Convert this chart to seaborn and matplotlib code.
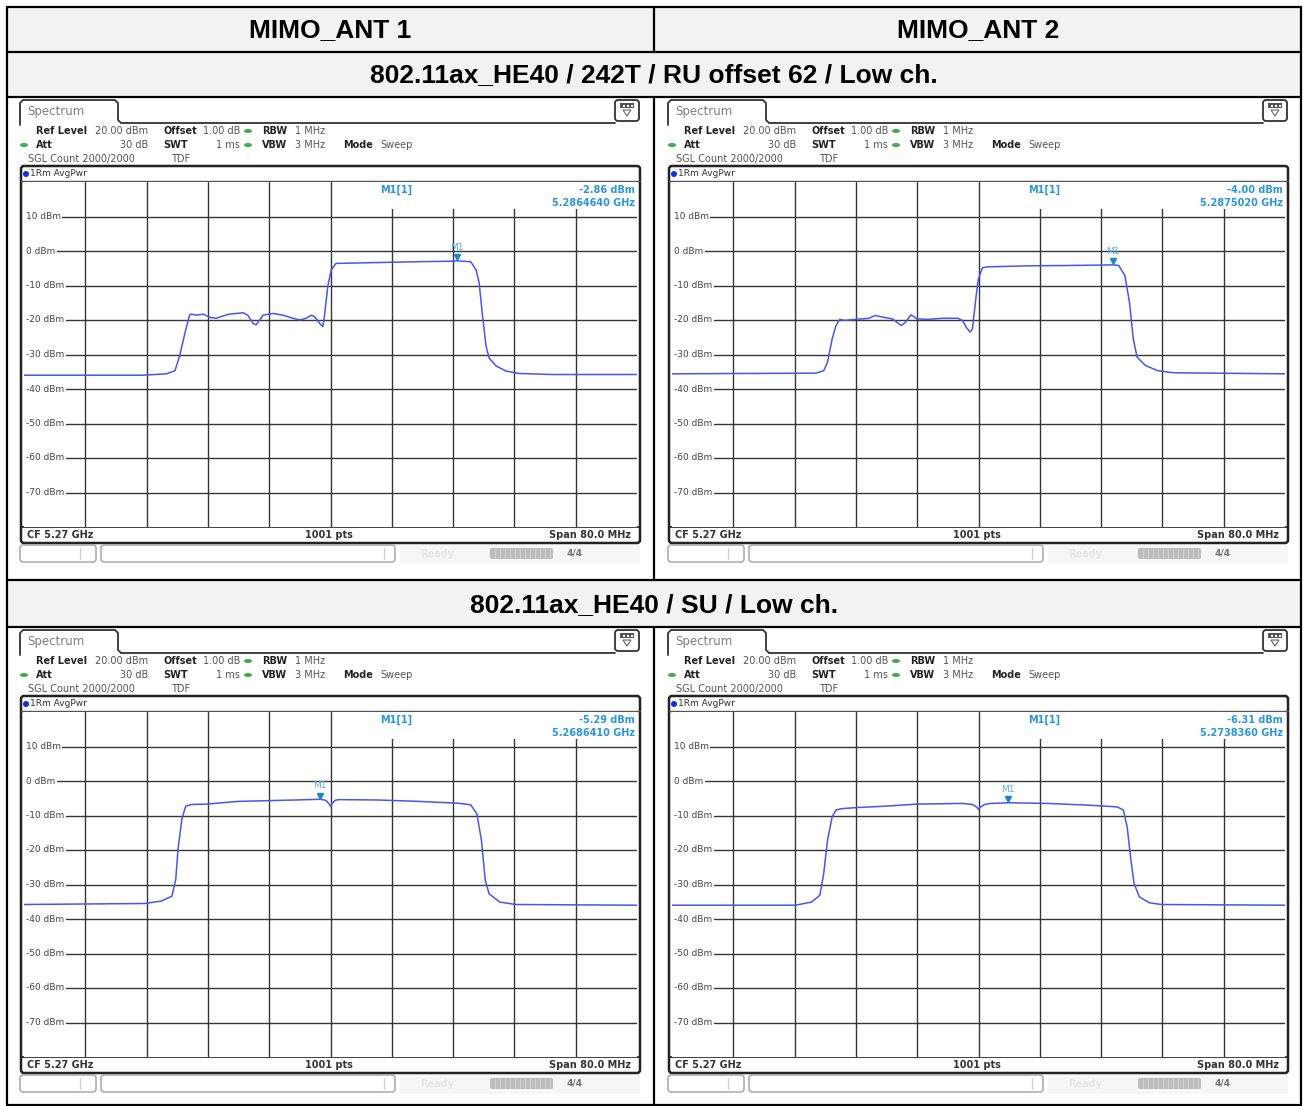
import numpy as np
import pandas as pd
import matplotlib
matplotlib.use('Agg')
import matplotlib.pyplot as plt
import seaborn as sns
from matplotlib.patches import FancyBboxPatch, Rectangle, Polygon, Ellipse

sns.set_theme(style='white')
plt.rcParams['font.family'] = ['DejaVu Sans']

# ---- data ----
col_titles = ['MIMO_ANT 1', 'MIMO_ANT 2']
row_titles = ['802.11ax_HE40 / 242T / RU offset 62 / Low ch.',
              '802.11ax_HE40 / SU / Low ch.']

cf_ghz = 5.27
span_mhz = 80.0
ref_level = 20
y_labels = [10, 0, -10, -20, -30, -40, -50, -60, -70]

# offsets from CF in MHz, level in dBm
ant1_ru_offset = [-40.0, -24.5, -21.4, -20.3, -19.7, -19.0, -18.4, -18.2, -17.5, -16.6,
                  -15.8, -14.9, -14.0, -13.2, -12.3, -11.4, -10.8, -10.1, -9.7, -8.8,
                  -7.5, -6.2, -4.9, -4.0, -3.2, -2.5, -2.1, -1.4, -1.0, -0.8,
                  -0.35, 0.1, 0.7, 2.9, 7.2, 11.6, 15.9, 16.46, 18.3, 19.0,
                  19.4, 19.8, 20.3, 20.7, 21.6, 22.9, 24.6, 28.9, 40.0]
ant1_ru_level = [-36.0, -36.0, -35.6, -34.7, -30.5, -23.8, -18.6, -18.3, -18.6, -18.3,
                 -19.2, -19.5, -18.8, -18.3, -18.1, -17.9, -18.6, -21.0, -21.4, -18.6,
                 -18.1, -18.6, -19.5, -20.0, -19.5, -18.6, -19.0, -21.0, -21.9, -19.1,
                 -10.2, -5.5, -3.6, -3.5, -3.3, -3.1, -2.95, -2.86, -3.1, -5.5,
                 -9.2, -18.0, -27.6, -31.0, -33.3, -34.8, -35.5, -35.8, -35.8]

ant2_ru_offset = [-40.0, -21.2, -20.2, -19.7, -19.1, -18.6, -18.1, -17.5, -15.9, -14.3,
                  -13.5, -12.2, -11.2, -10.1, -9.6, -8.8, -8.0, -6.4, -4.8, -2.7,
                  -2.1, -1.6, -1.1, -0.8, -0.3, 0.0, 0.5, 1.1, 6.4, 11.7,
                  17.0, 17.5, 18.3, 19.1, 19.7, 20.2, 20.7, 21.8, 23.4, 25.5, 40.0]
ant2_ru_level = [-35.6, -35.4, -34.7, -32.2, -25.5, -21.6, -19.8, -20.1, -19.8, -19.5,
                 -18.7, -19.3, -19.7, -21.6, -20.8, -18.5, -19.7, -19.8, -19.5, -19.5,
                 -20.1, -22.1, -23.5, -22.6, -12.9, -8.0, -4.9, -4.6, -4.3, -4.2,
                 -4.05, -4.0, -4.2, -7.1, -14.8, -25.5, -30.8, -33.2, -34.7, -35.3, -35.6]

ant1_su_offset = [-40.0, -24.2, -22.1, -20.7, -20.2, -19.9, -19.4, -18.9, -18.1, -16.2,
                  -12.0, -4.5, -1.36, -0.6, -0.2, 0.0, 0.2, 0.6, 1.1, 6.1,
                  11.4, 16.7, 18.3, 19.1, 19.7, 20.2, 20.7, 22.1, 24.2, 40.0]
ant1_su_level = [-35.8, -35.5, -34.8, -33.4, -28.6, -19.8, -11.1, -7.3, -6.8, -6.7,
                 -5.9, -5.5, -5.29, -5.6, -6.6, -7.3, -6.6, -5.6, -5.4, -5.5,
                 -5.9, -6.45, -6.9, -9.5, -17.2, -28.8, -32.7, -35.1, -35.8, -36.0]

ant2_su_offset = [-40.0, -23.9, -21.8, -20.7, -20.2, -19.7, -19.1, -18.6, -17.8, -15.9,
                  -12.2, -8.0, -2.1, -0.8, -0.2, 0.0, 0.2, 0.8, 1.6, 3.84,
                  9.0, 14.3, 18.1, 18.9, 19.4, 19.9, 20.3, 21.0, 22.3, 23.9, 40.0]
ant2_su_level = [-36.0, -36.0, -35.1, -33.1, -26.8, -17.1, -10.4, -8.4, -8.0, -7.7,
                 -7.3, -6.7, -6.5, -6.8, -7.6, -8.3, -7.6, -6.8, -6.5, -6.31,
                 -6.5, -7.0, -7.5, -8.4, -13.3, -23.0, -29.7, -33.6, -35.3, -35.8, -36.0]

marker_freq = [5.2864640, 5.2875020, 5.2686410, 5.2738360]
marker_level = [-2.86, -4.00, -5.29, -6.31]

W, H = 1303, 1106
TRACE = '#4656f2'
MARK = '#2a96dc'
GRID = '#363636'

fig = plt.figure(figsize=(W / 100, H / 100), dpi=100)
bg = fig.add_axes([0, 0, 1, 1])
bg.set_xlim(0, W)
bg.set_ylim(H, 0)
bg.axis('off')

# ---- table ----
L, R, MID = 7, 1301, 654
for y0, y1 in [(7, 52), (52, 97), (580, 627)]:
    bg.add_patch(Rectangle((L, y0), R - L, y1 - y0, fc='#f2f2f2', ec='none'))
for y in [7, 52, 97, 580, 627, 1105]:
    bg.plot([L, R], [y, y], color='black', lw=1.6)
bg.plot([L, L], [7, 1105], color='black', lw=1.6)
bg.plot([R, R], [7, 1105], color='black', lw=1.6)
for y0, y1 in [(7, 52), (97, 580), (627, 1105)]:
    bg.plot([MID, MID], [y0, y1], color='black', lw=1.6)

head_font = dict(family=['Liberation Sans', 'DejaVu Sans'], weight='bold', fontsize=19,
                 ha='center', va='center', color='black')
bg.text(330, 30, col_titles[0], **head_font)
bg.text(978, 30, col_titles[1], **head_font)
bg.text(MID, 75, row_titles[0], **head_font)
bg.text(MID, 605, row_titles[1], **head_font)


def draw_panel(ox, oy, offs, lvls, mf, ml):
    def t(x, y, s, **kw):
        kw.setdefault('fontsize', 7)
        kw.setdefault('color', '#555555')
        bg.text(x + ox, y + oy, s, va='center', **kw)

    # tab and header line
    bg.plot(np.array([20, 20, 23, 115, 118, 118, 121, 615]) + ox,
            np.array([125, 103, 100, 100, 103, 120, 123, 123]) + oy, color='#333333', lw=1.3)
    t(27, 112, 'Spectrum', fontsize=8.5, color='#808080')
    bg.add_patch(FancyBboxPatch((615 + ox, 100 + oy), 24, 21,
                                boxstyle='round,pad=0,rounding_size=3',
                                fc='white', ec='#333333', lw=1.3))
    bg.add_patch(Rectangle((620 + ox, 103 + oy), 14, 5, fc='#555555', ec='none'))
    for dx in [623, 627, 631]:
        bg.add_patch(Rectangle((dx + ox, 104.5 + oy), 1.5, 2, fc='white', ec='none'))
    bg.add_patch(Polygon([(623 + ox, 110 + oy), (631 + ox, 110 + oy), (627 + ox, 116 + oy)],
                         closed=True, fc='none', ec='#666666', lw=0.8))

    # setting lines
    bold = dict(weight='bold', color='#222222')
    t(36, 131, 'Ref Level', **bold)
    t(148, 131, '20.00 dBm', ha='right')
    t(163, 131, 'Offset', **bold)
    t(240, 131, '1.00 dB', ha='right')
    t(262, 131, 'RBW', **bold)
    t(295, 131, '1 MHz')
    t(36, 145, 'Att', **bold)
    t(148, 145, '30 dB', ha='right')
    t(163, 145, 'SWT', **bold)
    t(240, 145, '1 ms', ha='right')
    t(262, 145, 'VBW', **bold)
    t(295, 145, '3 MHz')
    t(343, 145, 'Mode', **bold)
    t(380, 145, 'Sweep')
    t(28, 159, 'SGL Count 2000/2000')
    t(171, 159, 'TDF')
    for gx, gy in [(248, 131), (248, 145), (24, 145)]:
        bg.add_patch(Ellipse((gx + ox, gy + oy), 8, 4, fc='#3fae49', ec='none'))

    # frame
    bg.add_patch(FancyBboxPatch((21 + ox, 166 + oy), 619, 377,
                                boxstyle='round,pad=0,rounding_size=3',
                                fc='white', ec='#222222', lw=1.8))
    bg.plot([21 + ox, 640 + ox], [181 + oy, 181 + oy], color='#555555', lw=1.0)
    bg.add_patch(Ellipse((26 + ox, 174 + oy), 6, 6, fc='#1030e0', ec='none'))
    t(30, 174, '1Rm AvgPwr', fontsize=6.5, color='#333333')
    bg.plot([21 + ox, 640 + ox], [527 + oy, 527 + oy], color='#222222', lw=1.2)
    t(27, 535, 'CF 5.27 GHz', fontsize=7, weight='bold', color='#333333')
    t(329, 535, '1001 pts', fontsize=7, weight='bold', color='#333333', ha='center')
    t(631, 535, 'Span %.1f MHz' % span_mhz, fontsize=7, weight='bold', color='#333333', ha='right')

    # status bar
    bg.add_patch(Rectangle((400 + ox, 545 + oy), 240, 19, fc='#f6f6f6', ec='none'))
    for x0, w in [(20, 76), (101, 294)]:
        bg.add_patch(FancyBboxPatch((x0 + ox, 545 + oy), w, 17,
                                    boxstyle='round,pad=0,rounding_size=3',
                                    fc='white', ec='#a0a0a0', lw=1.0))
    bg.plot([80 + ox, 80 + ox], [548 + oy, 559 + oy], color='#d0d0d0', lw=1)
    bg.plot([384 + ox, 384 + ox], [548 + oy, 559 + oy], color='#d0d0d0', lw=1)
    t(420, 554, 'Ready', fontsize=7, weight='bold', color='#e6e6e6')
    bg.add_patch(FancyBboxPatch((490 + ox, 548 + oy), 63, 11,
                                boxstyle='round,pad=0,rounding_size=2',
                                fc='#bdbdbd', ec='none'))
    for sx in range(495, 552, 5):
        bg.plot([sx + ox, sx + ox], [549 + oy, 558 + oy], color='#d2d2d2', lw=0.8)
    t(567, 553, '4/4', fontsize=6.5, weight='bold', color='#707070')

    # trace area
    ax = fig.add_axes([(24 + ox) / W, 1 - (527 + oy) / H, 613 / W, 345 / H])
    df = pd.DataFrame({'freq': cf_ghz + np.array(offs) / 1000.0, 'level': lvls})
    sns.lineplot(data=df, x='freq', y='level', ax=ax, color=TRACE, lw=1.1,
                 estimator=None, sort=False)
    half = span_mhz / 2000.0
    ax.set_xlim(cf_ghz - half, cf_ghz + half)
    ax.set_ylim(ref_level - 100, ref_level)
    ax.set_xticks(cf_ghz + np.arange(-32, 33, 8) / 1000.0)
    ax.set_yticks(y_labels)
    ax.set_axisbelow(True)
    ax.grid(True, color=GRID, lw=1.0)
    ax.tick_params(length=0, labelbottom=False, labelleft=False)
    ax.set_xlabel('')
    ax.set_ylabel('')
    for s in ax.spines.values():
        s.set_visible(False)
    for v in y_labels:
        ax.add_patch(Rectangle((cf_ghz - half, v - 1.2), 0.0005, 2.4, fc='white', ec='none', zorder=1))
        ax.text(cf_ghz - 0.0397, v, '%d dBm' % v, fontsize=6.5, color='#444444',
                ha='left', va='center', bbox=dict(fc='white', ec='none', pad=0.8))

    # marker readout
    ax.add_patch(Rectangle((cf_ghz + 0.0061, 12.2), 0.034, 8, fc='white', ec='none', zorder=1.5))
    ax.text(cf_ghz + 0.0086, 17.7, 'M1[1]', fontsize=7, weight='bold', color=MARK,
            ha='center', va='center')
    ax.text(cf_ghz + 0.0397, 17.7, '%.2f dBm' % ml, fontsize=7, weight='bold', color=MARK,
            ha='right', va='center')
    ax.text(cf_ghz + 0.0397, 13.9, '%.7f GHz' % mf, fontsize=7, weight='bold', color=MARK,
            ha='right', va='center')
    ax.plot([mf], [ml + 1.0], marker='v', ms=5, color='#1a86d0', ls='none')
    ax.text(mf, ml + 3.9, 'M1', fontsize=6.5, color='#5aaee0', ha='center', va='center')


traces = [(ant1_ru_offset, ant1_ru_level), (ant2_ru_offset, ant2_ru_level),
          (ant1_su_offset, ant1_su_level), (ant2_su_offset, ant2_su_level)]
origins = [(0, 0), (648, 0), (0, 530), (648, 530)]
for i in range(4):
    draw_panel(origins[i][0], origins[i][1], traces[i][0], traces[i][1],
               marker_freq[i], marker_level[i])

fig.savefig('out.png', dpi=100)
